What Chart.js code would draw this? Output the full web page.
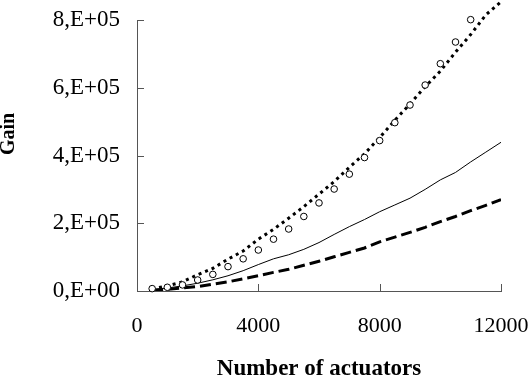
<!DOCTYPE html>
<html>
<head>
<meta charset="utf-8">
<script src="https://cdn.jsdelivr.net/npm/chart.js@4/dist/chart.umd.min.js"></script>
<style>
  body { margin: 0; background: #fff; }
  canvas { display: block; }
</style>
</head>
<body>
<canvas id="chart" width="531" height="381"></canvas>
<script>
// Data ------------------------------------------------------------------------------

const ACTUATORS = [500, 1000, 1500, 2000, 2500, 3000, 3500, 4000, 4500, 5000, 5500, 6000,
                   6500, 7000, 7500, 8000, 8500, 9000, 9500, 10000, 10500, 11000, 11500, 12000];

// circles (measured points, 500..11000)
const GAIN_POINTS = [7000, 11000, 18000, 32500, 49000, 72000, 95000, 121000, 153000, 183000, 220000,
                     260000, 301000, 345000, 394000, 444000, 497000, 549000, 608000, 671000, 735000, 801000];

const GAIN_DOTTED = [6000, 15000, 27000, 48000, 67000, 94000, 118000, 153000, 182000, 215000, 249000, 286000,
                     323000, 365000, 405000, 453000, 504000, 552000, 603000, 649000, 705000, 757000, 815000, 854000];

const GAIN_SOLID = [4000, 9000, 15000, 23000, 33000, 45000, 60000, 78000, 95000, 107000, 123000, 143000,
                    167000, 190000, 211000, 234000, 254000, 274000, 300000, 328000, 350000, 381000, 410000, 439000];

const GAIN_DASHED = [2000, 5000, 9000, 13000, 20000, 27000, 36000, 45000, 55000, 64000, 76000, 88000,
                     101000, 114000, 127000, 145000, 159000, 173000, 188000, 205000, 220000, 237000, 253000, 270000];

const X_TICKS = [0, 4000, 8000, 12000];
const Y_TICKS = [0, 200000, 400000, 600000, 800000];

// Style -----------------------------------------------------------------------------

const FONT = '"Liberation Serif", "Times New Roman", serif';
const AXIS_COLOR = '#555';

// Helpers ---------------------------------------------------------------------------

let toPoints = function (xs, ys) {
    return ys.map(function (v, i) { return {x: xs[i], y: v}; });
};

let sciLabel = function (value) {
    if (value === 0) return '0,E+00';
    let exp = Math.floor(Math.log10(value));
    let mant = Math.round(value / Math.pow(10, exp));
    return mant + ',E+' + String(exp).padStart(2, '0');
};

// inner tick marks + rotated y title
const axisExtras = {
    id: 'axisExtras',
    afterDraw(chart) {
        const ctx = chart.ctx;
        const a = chart.chartArea;
        const x = chart.scales.x;
        const y = chart.scales.y;
        ctx.save();
        ctx.strokeStyle = AXIS_COLOR;
        ctx.lineWidth = 1;
        ctx.beginPath();
        Y_TICKS.forEach(function (v) {
            const py = Math.round(y.getPixelForValue(v)) + 0.5;
            ctx.moveTo(a.left, py);
            ctx.lineTo(a.left + 7, py);
        });
        X_TICKS.forEach(function (v) {
            const px = Math.round(x.getPixelForValue(v)) + 0.5;
            ctx.moveTo(px, a.bottom);
            ctx.lineTo(px, a.bottom - 7);
        });
        ctx.stroke();

        ctx.translate(9, 134);
        ctx.rotate(-Math.PI / 2);
        ctx.fillStyle = '#000';
        ctx.font = 'bold 20px ' + FONT;
        ctx.textAlign = 'center';
        ctx.textBaseline = 'middle';
        ctx.fillText('Gain', 0, 0);
        ctx.restore();
    }
};

// Chart -----------------------------------------------------------------------------

new Chart(document.getElementById('chart').getContext('2d'), {
    type: 'line',
    data: {
        datasets: [
            {
                label: 'measured',
                data: toPoints(ACTUATORS, GAIN_POINTS),
                showLine: false,
                pointStyle: 'circle',
                pointRadius: 3.3,
                pointBorderWidth: 1,
                pointBorderColor: '#000',
                pointBackgroundColor: '#fff',
                borderColor: '#000',
                clip: false
            },
            {
                label: 'dotted',
                data: toPoints(ACTUATORS, GAIN_DOTTED),
                borderColor: '#000',
                borderWidth: 3,
                borderDash: [3, 4],
                pointRadius: 0,
                clip: false
            },
            {
                label: 'solid',
                data: toPoints(ACTUATORS, GAIN_SOLID),
                borderColor: '#000',
                borderWidth: 1,
                pointRadius: 0
            },
            {
                label: 'dashed',
                data: toPoints(ACTUATORS, GAIN_DASHED),
                borderColor: '#000',
                borderWidth: 3,
                borderDash: [11, 5],
                pointRadius: 0
            }
        ]
    },
    options: {
        responsive: false,
        animation: false,
        layout: { padding: { top: 20, right: 30, left: 0, bottom: 0 } },
        plugins: {
            legend: { display: false },
            tooltip: { enabled: false }
        },
        scales: {
            x: {
                type: 'linear',
                min: 0,
                max: 12000,
                afterBuildTicks: function (scale) {
                    scale.ticks = X_TICKS.map(function (v) { return {value: v}; });
                },
                afterFit: function (scale) {
                    scale.height = 90;
                    scale.paddingLeft = 0;
                    scale.paddingRight = 0;
                },
                grid: { display: false, drawTicks: false },
                border: { display: true, color: AXIS_COLOR, width: 1 },
                ticks: {
                    color: '#000',
                    padding: 22,
                    maxRotation: 0,
                    font: { family: FONT, size: 22 },
                    callback: function (value) { return String(value); }
                },
                title: {
                    display: true,
                    text: 'Number of actuators',
                    color: '#000',
                    padding: { top: 0, bottom: -2 },
                    font: { family: FONT, size: 23, weight: 'bold' }
                }
            },
            y: {
                min: 0,
                max: 800000,
                afterBuildTicks: function (scale) {
                    scale.ticks = Y_TICKS.map(function (v) { return {value: v}; });
                },
                afterFit: function (scale) {
                    scale.width = 137;
                    scale.paddingTop = 0;
                    scale.paddingBottom = 0;
                },
                grid: { display: false, drawTicks: false },
                border: { display: true, color: AXIS_COLOR, width: 1 },
                ticks: {
                    color: '#000',
                    padding: 17,
                    font: { family: FONT, size: 23 },
                    callback: function (value) { return sciLabel(value); }
                }
            }
        }
    },
    plugins: [axisExtras]
});
</script>
</body>
</html>
